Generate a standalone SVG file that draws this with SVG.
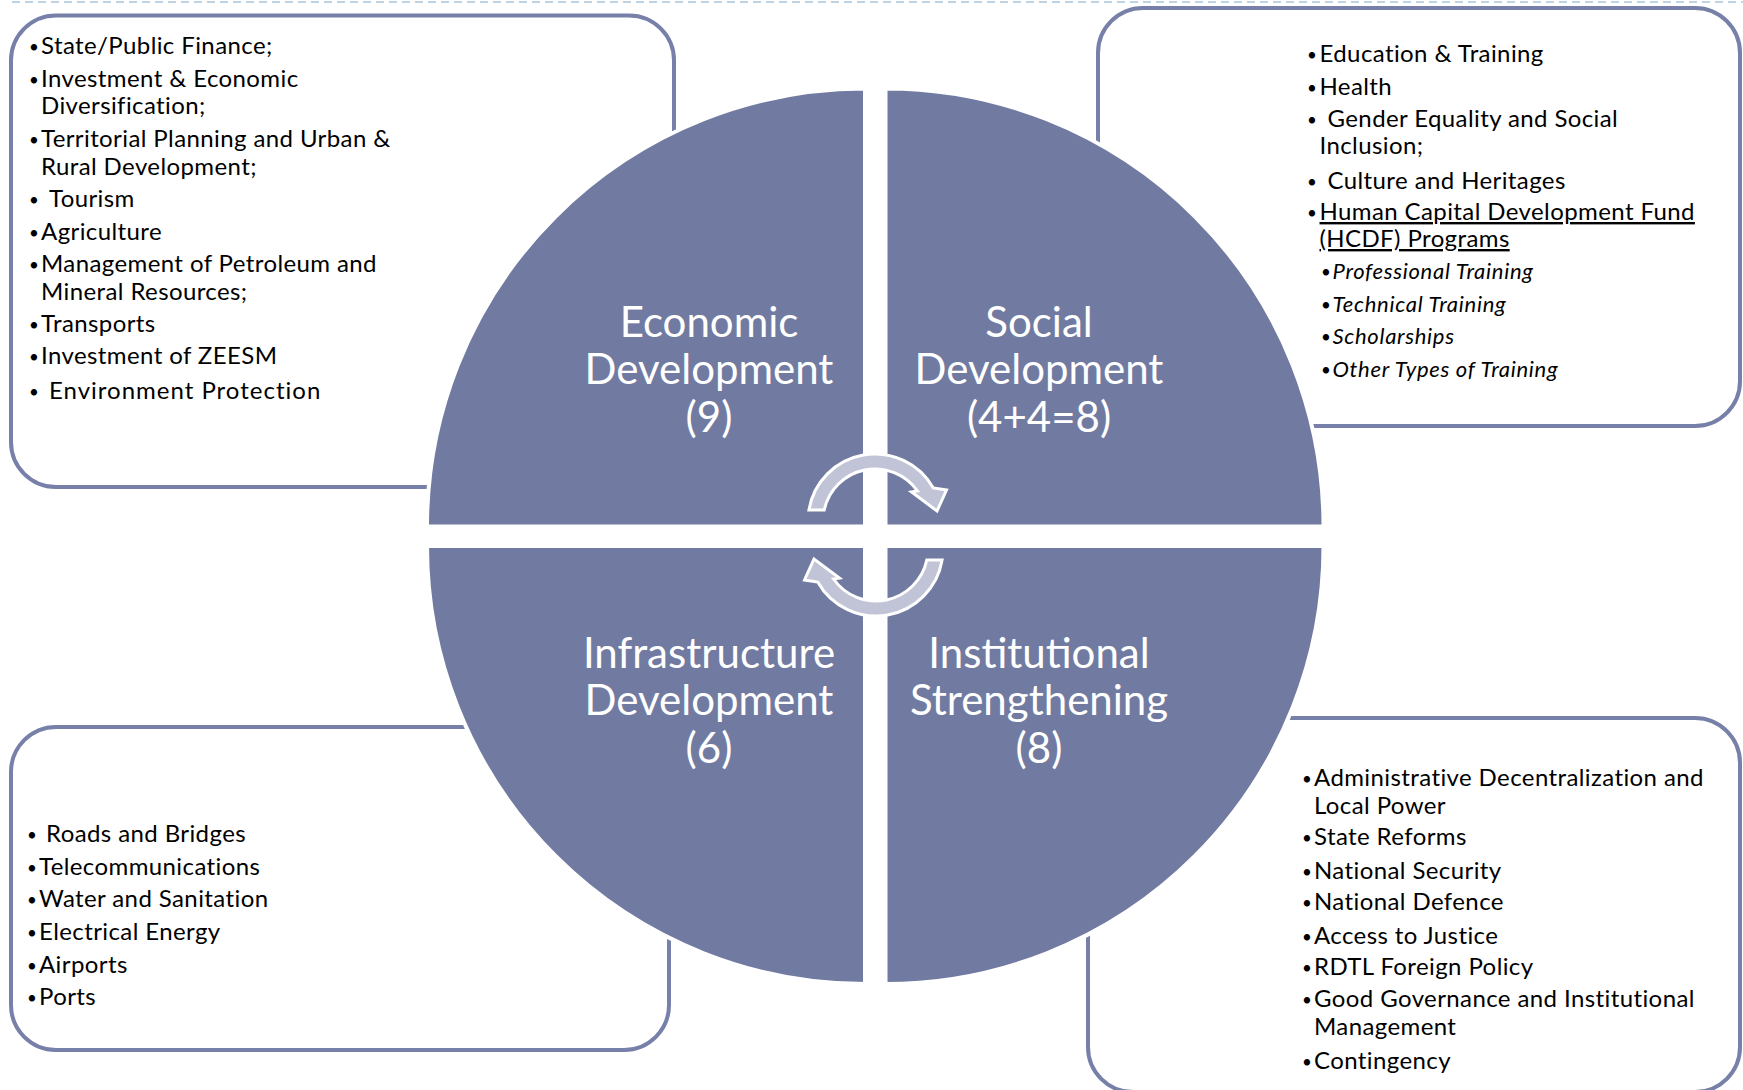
<svg xmlns="http://www.w3.org/2000/svg" width="1743" height="1090" viewBox="0 0 1743 1090">
<style>
.box{fill:#ffffff;stroke:#7680a8;stroke-width:4}
.quad{fill:#717ba1;stroke:#ffffff;stroke-width:4}
.lbl{font-family:Lato,"Open Sans",sans-serif;font-size:42px;fill:#ffffff;text-anchor:middle}
.it{font-family:Lato,"Open Sans",sans-serif;font-size:24px;letter-spacing:0.4px;fill:#000000}
.sub{font-family:Lato,"Open Sans",sans-serif;font-size:22px;letter-spacing:0.7px;font-style:italic;fill:#000000}
.b{font-family:Lato,"Open Sans",sans-serif;font-size:17px;fill:#000000}
.arr{fill:#c0c4d6;stroke:#ffffff;stroke-width:3;stroke-linejoin:miter}
</style>
<rect x="0" y="0" width="1743" height="1090" fill="#ffffff"/>
<line x1="12" y1="2" x2="1743" y2="2" stroke="#a9c5dc" stroke-width="1.5" stroke-dasharray="8 5"/>

<g id="box-economic">
<rect class="box" x="11" y="15.5" width="663" height="471.5" rx="45"/>
<g class="b">
<text x="29" y="53">•</text><text x="29" y="86">•</text><text x="29" y="146">•</text><text x="29" y="206">•</text>
<text x="29" y="239">•</text><text x="29" y="271">•</text><text x="29" y="331">•</text><text x="29" y="363">•</text><text x="29" y="398">•</text>
</g>
<g class="it">
<text x="41" y="54">State/Public Finance;</text>
<text x="41" y="87">Investment &amp; Economic</text>
<text x="41" y="114">Diversification;</text>
<text x="41" y="147">Territorial Planning and Urban &amp;</text>
<text x="41" y="175">Rural Development;</text>
<text x="49" y="207">Tourism</text>
<text x="41" y="240">Agriculture</text>
<text x="41" y="272">Management of Petroleum and</text>
<text x="41" y="300">Mineral Resources;</text>
<text x="41" y="332">Transports</text>
<text x="41" y="364">Investment of ZEESM</text>
<text x="49" y="399" letter-spacing="1">Environment Protection</text>
</g>
</g>

<g id="box-social">
<rect class="box" x="1098" y="8" width="642" height="418" rx="45"/>
<g class="b">
<text x="1307" y="61">•</text><text x="1307" y="94">•</text><text x="1307" y="126">•</text><text x="1307" y="188">•</text><text x="1307" y="219">•</text>
<text x="1321" y="278">•</text><text x="1321" y="311">•</text><text x="1321" y="343">•</text><text x="1321" y="376">•</text>
</g>
<g class="it">
<text x="1319.5" y="62">Education &amp; Training</text>
<text x="1319.5" y="95">Health</text>
<text x="1327.5" y="127">Gender Equality and Social</text>
<text x="1319.5" y="154">Inclusion;</text>
<text x="1327.5" y="189">Culture and Heritages</text>
<text x="1319.5" y="220" text-decoration="underline">Human Capital Development Fund</text>
<text x="1319.5" y="247" text-decoration="underline">(HCDF) Programs</text>
</g>
<g class="sub">
<text x="1332.5" y="279">Professional Training</text>
<text x="1332.5" y="312">Technical Training</text>
<text x="1332.5" y="344">Scholarships</text>
<text x="1332.5" y="377">Other Types of Training</text>
</g>
</g>

<g id="box-infrastructure">
<rect class="box" x="11" y="727" width="658" height="323" rx="45"/>
<g class="b">
<text x="27" y="841">•</text><text x="27" y="874">•</text><text x="27" y="906">•</text><text x="27" y="939">•</text><text x="27" y="972">•</text><text x="27" y="1004">•</text>
</g>
<g class="it">
<text x="46" y="842">Roads and Bridges</text>
<text x="39" y="875">Telecommunications</text>
<text x="39" y="907">Water and Sanitation</text>
<text x="39" y="940">Electrical Energy</text>
<text x="39" y="973">Airports</text>
<text x="39" y="1005">Ports</text>
</g>
</g>

<g id="box-institutional">
<rect class="box" x="1088" y="718" width="652" height="374" rx="45"/>
<g class="b">
<text x="1302" y="785">•</text><text x="1302" y="844">•</text><text x="1302" y="878">•</text><text x="1302" y="909">•</text>
<text x="1302" y="943">•</text><text x="1302" y="974">•</text><text x="1302" y="1006">•</text><text x="1302" y="1068">•</text>
</g>
<g class="it">
<text x="1314" y="786">Administrative Decentralization and</text>
<text x="1314" y="814">Local Power</text>
<text x="1314" y="845">State Reforms</text>
<text x="1314" y="879">National Security</text>
<text x="1314" y="910">National Defence</text>
<text x="1314" y="944">Access to Justice</text>
<text x="1314" y="975">RDTL Foreign Policy</text>
<text x="1314" y="1007">Good Governance and Institutional</text>
<text x="1314" y="1035">Management</text>
<text x="1314" y="1069">Contingency</text>
</g>
</g>

<g id="quad-economic">
<path class="quad" d="M865 526.5 H427 A438 438 0 0 1 865 88.5 Z"/>
<text class="lbl" x="709" y="337">Economic</text>
<text class="lbl" x="709" y="384">Development</text>
<text class="lbl" x="709" y="432">(9)</text>
</g>
<g id="quad-social">
<path class="quad" d="M885.5 526.5 V88.5 A438 438 0 0 1 1323.5 526.5 Z"/>
<text class="lbl" x="1039" y="337">Social</text>
<text class="lbl" x="1039" y="384">Development</text>
<text class="lbl" x="1039" y="432">(4+4=8)</text>
</g>
<g id="quad-institutional">
<path class="quad" d="M885.5 546 H1323.5 A438 438 0 0 1 885.5 984 Z"/>
<text class="lbl" x="1039" y="668">Institutional</text>
<text class="lbl" x="1039" y="715">Strengthening</text>
<text class="lbl" x="1039" y="763">(8)</text>
</g>
<g id="quad-infrastructure">
<path class="quad" d="M865 546 V984 A438 438 0 0 1 427 546 Z"/>
<text class="lbl" x="709" y="668">Infrastructure</text>
<text class="lbl" x="709" y="715">Development</text>
<text class="lbl" x="709" y="763">(6)</text>
</g>

<g id="connectors">
<path id="arrow-top" class="arr" d="M808.9 510 A67 67 0 0 1 933.3 488 L946.5 490 L937 511 L911.5 492 L917.5 491 A52 52 0 0 0 824.2 510 Z"/>
<path id="arrow-bottom" class="arr" transform="rotate(180 875.5 535)" d="M808.9 510 A67 67 0 0 1 933.3 488 L946.5 490 L937 511 L911.5 492 L917.5 491 A52 52 0 0 0 824.2 510 Z"/>
</g>
</svg>
